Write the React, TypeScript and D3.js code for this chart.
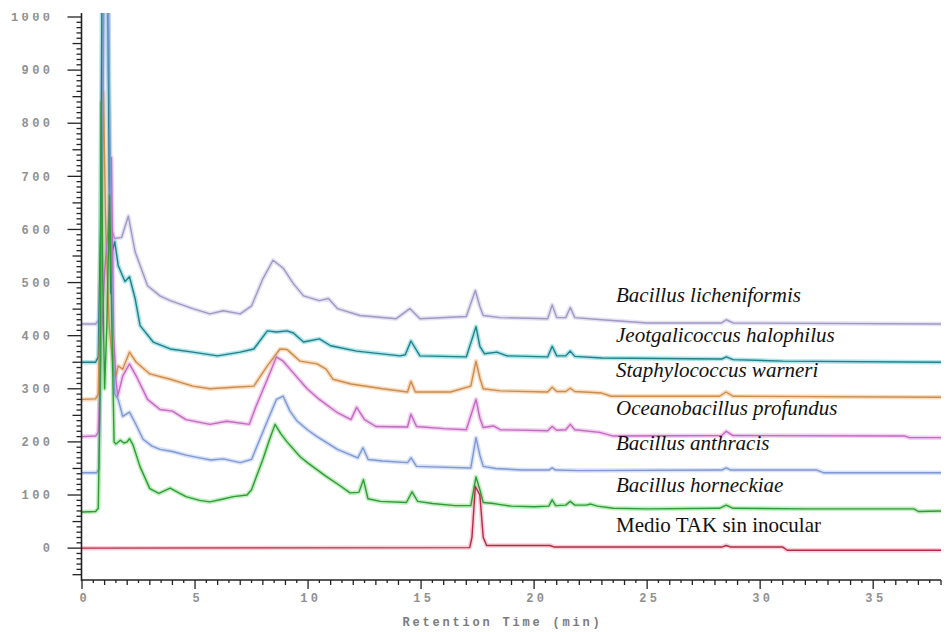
import React from "react";
import * as d3 from "d3";

// ---- data (retention time in min, signal) ----
const xTickValues = [0, 5, 10, 15, 20, 25, 30, 35];
const yTickValues = [0, 100, 200, 300, 400, 500, 600, 700, 800, 900, 1000];
const xAxisTitle = "Retention Time (min)";

const licheniformis: [number, number][] = [
  [0, 422], [0.6, 422], [0.75, 430], [0.9, 800], [1.05, 1500], [1.15, 900], [1.3, 600], [1.45, 583],
  [1.75, 585], [2.05, 625], [2.35, 558], [2.9, 494], [3.45, 475], [3.9, 466], [4.9, 451], [5.66, 441],
  [6.25, 447], [7.0, 441], [7.5, 456], [8.0, 507], [8.45, 542], [8.9, 527], [9.35, 498], [9.8, 475],
  [10.5, 466], [10.9, 470], [11.3, 451], [12.3, 438], [13.9, 432], [14.5, 451], [14.95, 432], [17.0, 436],
  [17.4, 485], [17.6, 455], [17.75, 438], [18.5, 434], [20.6, 432], [20.8, 458], [21.0, 434], [21.4, 434],
  [21.6, 453], [21.8, 434], [23, 430], [25, 424], [28.3, 424], [28.5, 430], [28.8, 424], [38, 422],
];
const jeotgalicoccus: [number, number][] = [
  [0, 350], [0.6, 350], [0.72, 360], [0.82, 600], [0.92, 1300], [0.97, 1600], [1.08, 1600], [1.14, 1200],
  [1.2, 700], [1.27, 480], [1.35, 560], [1.45, 577], [1.6, 532], [1.9, 502], [2.1, 511], [2.35, 470],
  [2.57, 419], [3.15, 388], [3.9, 375], [4.9, 369], [6.0, 362], [7.0, 369], [7.6, 375], [8.2, 409],
  [8.6, 407], [9.07, 409], [9.35, 405], [9.8, 388], [10.5, 394], [11.0, 381], [12.15, 371], [14.07, 362],
  [14.3, 364], [14.55, 390], [14.95, 362], [17.0, 360], [17.43, 417], [17.6, 380], [17.8, 366], [18.35, 369],
  [18.8, 362], [20.6, 360], [20.8, 380], [21.0, 362], [21.4, 362], [21.6, 371], [21.8, 361], [23, 358],
  [28.3, 356], [28.5, 360], [28.8, 355], [31, 352], [38, 350],
];
const staphylococcus: [number, number][] = [
  [0, 280], [0.6, 281], [0.72, 290], [0.82, 500], [0.95, 860], [1.05, 600], [1.2, 420], [1.4, 330],
  [1.5, 324], [1.6, 343], [1.8, 337], [2.1, 369], [2.4, 350], [3.0, 328], [3.9, 318], [4.9, 305],
  [5.66, 300], [6.7, 303], [7.6, 305], [8.2, 343], [8.76, 375], [9.07, 374], [9.2, 369], [9.65, 352],
  [10.4, 347], [10.8, 337], [11.1, 318], [11.9, 309], [13.3, 300], [14.4, 294], [14.55, 314], [14.75, 294],
  [16.3, 294], [17.2, 305], [17.43, 352], [17.6, 320], [17.75, 300], [18.5, 296], [20.6, 294], [20.8, 303],
  [21.0, 295], [21.4, 295], [21.6, 301], [21.8, 295], [23.0, 292], [23.4, 286], [28.2, 286], [28.5, 294],
  [28.8, 286], [38, 284],
];
const oceanobacillus: [number, number][] = [
  [0, 210], [0.6, 211], [0.72, 218], [0.85, 380], [1.0, 520], [1.15, 600], [1.3, 735], [1.4, 400],
  [1.5, 318], [1.58, 286], [1.8, 324], [2.1, 347], [2.4, 324], [2.9, 280], [3.45, 261], [4.0, 258],
  [4.6, 242], [5.66, 233], [6.4, 239], [7.4, 233], [7.7, 267], [8.2, 318], [8.6, 360], [8.9, 352],
  [9.2, 337], [9.96, 300], [10.5, 280], [11.3, 255], [11.9, 242], [12.15, 265], [12.5, 242], [13.0, 229],
  [14.4, 228], [14.55, 252], [14.8, 229], [16.0, 225], [17.0, 223], [17.43, 280], [17.6, 245], [17.75, 227],
  [18.2, 230], [18.5, 223], [20.6, 221], [20.8, 229], [21.0, 222], [21.4, 223], [21.6, 233], [21.8, 223],
  [22.9, 218], [23.5, 211], [28.3, 212], [28.5, 220], [28.8, 212], [36.4, 211], [36.6, 208], [38, 208],
];
const anthracis: [number, number][] = [
  [0, 142], [0.65, 142], [0.75, 150], [0.85, 400], [1.0, 1200], [1.1, 1400], [1.2, 900], [1.35, 400],
  [1.45, 290], [1.6, 280], [1.8, 248], [2.1, 256], [2.35, 236], [2.7, 205], [3.1, 192], [3.45, 186],
  [4.0, 182], [4.6, 175], [5.2, 170], [5.7, 166], [6.25, 168], [7.0, 161], [7.5, 167], [8.1, 229],
  [8.6, 280], [8.9, 286], [9.2, 258], [9.5, 240], [10.0, 222], [10.4, 210], [11.3, 186], [12.2, 170],
  [12.43, 189], [12.66, 167], [13.3, 164], [14.4, 161], [14.56, 170], [14.8, 154], [15.5, 153], [17.2, 151],
  [17.43, 208], [17.6, 175], [17.75, 154], [18.3, 150], [19.5, 147], [20.65, 147], [20.8, 151], [20.95, 147],
  [22, 146], [28.3, 147], [28.5, 151], [28.7, 147], [32.5, 147], [32.8, 142], [38, 142],
];
const horneckiae: [number, number][] = [
  [0, 68], [0.6, 69], [0.72, 75], [0.8, 300], [0.85, 840], [0.92, 500], [1.0, 300], [1.1, 420],
  [1.22, 665], [1.33, 400], [1.42, 200], [1.5, 196], [1.7, 203], [1.85, 198], [2.0, 200], [2.1, 206],
  [2.25, 195], [2.57, 153], [3.0, 112], [3.4, 103], [3.9, 113], [4.2, 106], [4.6, 97], [5.2, 90],
  [5.66, 87], [6.2, 92], [6.7, 97], [7.3, 100], [7.5, 110], [8.0, 167], [8.3, 205], [8.54, 233],
  [8.8, 215], [9.07, 200], [9.65, 172], [10.0, 160], [10.8, 135], [11.4, 118], [11.86, 104], [12.25, 105],
  [12.45, 129], [12.65, 93], [13.2, 88], [14.35, 86], [14.6, 106], [14.85, 88], [15.5, 84], [16.5, 80],
  [17.2, 80], [17.43, 134], [17.6, 110], [17.75, 86], [18.2, 84], [18.5, 82], [19.0, 79], [20.0, 78],
  [20.65, 79], [20.8, 91], [20.95, 80], [21.4, 81], [21.6, 88], [21.8, 81], [22.3, 81], [22.5, 83],
  [22.8, 79], [23.5, 75], [25, 74], [28.2, 75], [28.5, 81], [28.8, 75], [32, 74], [36.8, 74],
  [37.0, 69], [38, 70],
];
const medioTAK: [number, number][] = [
  [0, 0], [17.15, 1], [17.25, 20], [17.4, 116], [17.6, 100], [17.75, 20], [17.9, 5], [20.7, 5],
  [20.9, 2], [28.3, 2], [28.5, 5], [28.7, 2], [31, 2], [31.2, -4], [38, -4],
];

const seriesNames = [
  "Bacillus licheniformis",
  "Jeotgalicoccus halophilus",
  "Staphylococcus warneri",
  "Oceanobacillus profundus",
  "Bacillus anthracis",
  "Bacillus horneckiae",
  "Medio TAK sin inocular",
];
const seriesData = [licheniformis, jeotgalicoccus, staphylococcus, oceanobacillus, anthracis, horneckiae, medioTAK];

// ---- styles ----
const lineColors = ["#9f99c4", "#1f8088", "#c98d4f", "#c06cc0", "#7f98d2", "#2f9a38", "#b02c46"];
const glowColors = ["#cfcbe6", "#6fd0d8", "#f4c08a", "#eaa8e4", "#b8cbf0", "#8ee08a", "#f2a6b6"];
const labelBaselines = [302, 342, 377, 415, 450, 492, 532];
const labelItalic = [true, true, true, true, true, true, false];

const W = 952;
const H = 632;
const PLOT_LEFT = 82;
const PLOT_RIGHT = 941;
const AXIS_Y = 580;
const PLOT_TOP = 13;
const TICK_FS = 12;
const TICK_LS = 3.4;

export default function App() {
  const x = d3.scaleLinear().domain([0, 38]).range([PLOT_LEFT, PLOT_RIGHT]);
  const y = d3.scaleLinear().domain([-60, 1000]).range([AXIS_Y, 17]);
  const line = d3
    .line<[number, number]>()
    .x((d) => x(d[0]))
    .y((d) => y(d[1]))
    .curve(d3.curveLinear);

  const yMinor = d3.range(-50, 1001, 10);
  const xMinor = d3.range(0, 38.01, 0.5);
  const axisFont = "'Liberation Mono', 'DejaVu Sans Mono', monospace";

  return (
    <svg
      width={W}
      height={H}
      style={{ position: "absolute", left: 0, top: 0, background: "#fff" }}
    >
      <defs>
        <clipPath id="plotClip">
          <rect x={PLOT_LEFT} y={PLOT_TOP} width={PLOT_RIGHT - PLOT_LEFT + 4} height={AXIS_Y - PLOT_TOP} />
        </clipPath>
        <clipPath id="labelClip">
          <rect x={0} y={13} width={PLOT_LEFT} height={H} />
        </clipPath>
      </defs>
      <rect x={0} y={0} width={W} height={H} fill="#fff" />

      {/* traces */}
      <g clipPath="url(#plotClip)">
        {seriesData.map((d, i) => (
          <path
            key={"g" + i}
            d={line(d) || ""}
            fill="none"
            stroke={glowColors[i]}
            strokeWidth={4.5}
            strokeOpacity={0.55}
            strokeLinejoin="round"
          />
        ))}
        {seriesData.map((d, i) => (
          <path
            key={"l" + i}
            d={line(d) || ""}
            fill="none"
            stroke={lineColors[i]}
            strokeWidth={1.4}
            strokeLinejoin="round"
          />
        ))}
      </g>

      {/* y axis */}
      <line x1={PLOT_LEFT - 0.5} x2={PLOT_LEFT - 0.5} y1={PLOT_TOP} y2={AXIS_Y + 1} stroke="#222" strokeWidth={1.6} />
      {yMinor.map((v) => {
        const major = v % 100 === 0;
        const mid = !major && v % 50 === 0;
        const len = major ? 14 : mid ? 9 : 5;
        return (
          <line
            key={"yt" + v}
            x1={PLOT_LEFT - 0.5 - len}
            x2={PLOT_LEFT - 0.5}
            y1={y(v)}
            y2={y(v)}
            stroke="#222"
            strokeWidth={1.3}
          />
        );
      })}
      <g clipPath="url(#labelClip)">
        {yTickValues.map((v) => (
          <text
            key={"yl" + v}
            x={50 + TICK_LS}
            y={y(v)}
            dy="0.35em"
            textAnchor="end"
            fontFamily={axisFont}
            fontSize={TICK_FS}
            fontWeight="bold"
            letterSpacing={TICK_LS}
            fill="#909090"
          >
            {v}
          </text>
        ))}
      </g>

      {/* x axis */}
      <line x1={PLOT_LEFT - 1} x2={PLOT_RIGHT} y1={AXIS_Y} y2={AXIS_Y} stroke="#222" strokeWidth={1.6} />
      {xMinor.map((t) => {
        const major = Math.abs(t % 5) < 1e-6;
        const whole = Math.abs(t % 1) < 1e-6;
        const len = major ? 9 : whole ? 5 : 3;
        return (
          <line
            key={"xt" + t}
            x1={x(t)}
            x2={x(t)}
            y1={AXIS_Y}
            y2={AXIS_Y + len}
            stroke="#222"
            strokeWidth={1.3}
          />
        );
      })}
      {xTickValues.map((t) => (
        <text
          key={"xl" + t}
          x={x(t) + 1 + TICK_LS / 2}
          y={598}
          dy="0.35em"
          textAnchor="middle"
          fontFamily={axisFont}
          fontSize={TICK_FS}
          fontWeight="bold"
          letterSpacing={TICK_LS}
          fill="#909090"
        >
          {t}
        </text>
      ))}
      <text
        x={501 + 1.4}
        y={622}
        dy="0.35em"
        textAnchor="middle"
        fontFamily={axisFont}
        fontSize={12}
        fontWeight="bold"
        letterSpacing={2.8}
        fill="#7c7c7c"
      >
        {xAxisTitle}
      </text>

      {/* series labels */}
      {seriesNames.map((name, i) => (
        <text
          key={"lab" + i}
          x={616}
          y={labelBaselines[i]}
          fontFamily="'Liberation Serif', 'Times New Roman', serif"
          fontStyle={labelItalic[i] ? "italic" : "normal"}
          fontSize={21}
          fill="#111"
        >
          {name}
        </text>
      ))}
    </svg>
  );
}
